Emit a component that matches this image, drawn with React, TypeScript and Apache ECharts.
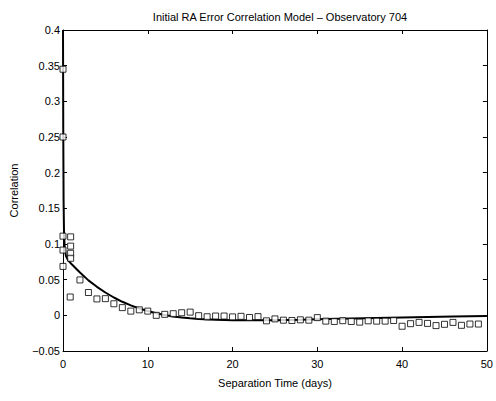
import React, { useEffect, useRef } from "react";
import * as echarts from "echarts";

const titleText = "Initial RA Error Correlation Model – Observatory 704";
const xLabel = "Separation Time (days)";
const yLabel = "Correlation";

// Empirical correlation samples [separation days, correlation]
const samples: [number, number][] = [
  [0, 0.345], [0, 0.25], [0, 0.111], [0, 0.0915], [0, 0.0686],
  [0.9, 0.11], [0.9, 0.097], [0.9, 0.087], [0.9, 0.08], [0.85, 0.0257],
  [2, 0.0496], [3, 0.032], [4, 0.023], [5, 0.0234], [6, 0.0162], [7, 0.0108],
  [8, 0.0059], [9, 0.0077], [10, 0.0059], [11, 0.0], [12, 0.0014], [13, 0.0023],
  [14, 0.0036], [15, 0.0045], [16, -0.0005], [17, -0.002], [18, -0.001], [19, -0.001],
  [20, -0.0022], [21, -0.0014], [22, -0.003], [23, -0.0018], [24, -0.0077], [25, -0.005],
  [26, -0.0068], [27, -0.0072], [28, -0.0063], [29, -0.0068], [30, -0.0032], [31, -0.0081],
  [32, -0.0086], [33, -0.0075], [34, -0.0086], [35, -0.0095], [36, -0.0077], [37, -0.0081],
  [38, -0.0081], [39, -0.0072], [40, -0.0153], [41, -0.0117], [42, -0.0099], [43, -0.0113],
  [44, -0.0144], [45, -0.0126], [46, -0.0099], [47, -0.014], [48, -0.0122], [49, -0.0122],
];

// Fitted model curve [days, correlation]
const model: [number, number][] = [
  [0, 0.4], [0.03, 0.26], [0.07, 0.16], [0.12, 0.115], [0.2, 0.095], [0.35, 0.083],
  [0.6, 0.077], [1, 0.072], [2, 0.06], [3, 0.049], [4, 0.04], [5, 0.032], [6, 0.025],
  [7, 0.019], [8, 0.014], [9, 0.0095], [10, 0.006], [11, 0.003], [12, 0.0005],
  [13, -0.0015], [14, -0.003], [15, -0.0042], [16, -0.0052], [18, -0.0063], [20, -0.0068],
  [22, -0.007], [25, -0.0068], [28, -0.0062], [31, -0.0053], [34, -0.0045], [37, -0.0037],
  [40, -0.003], [43, -0.0023], [46, -0.0017], [50, -0.001],
];

const FONT = "Liberation Sans";

function fmtY(v: number) {
  const r = Math.round(v * 100) / 100;
  const s = String(Math.abs(r));
  return r < 0 ? "−" + s : s;
}

export default function App() {
  const ref = useRef<HTMLDivElement>(null);
  useEffect(() => {
    if (!ref.current) return;
    const chart = echarts.init(ref.current, undefined, { renderer: "svg" });
    const tickStyle = { show: true, inside: true, length: 4, lineStyle: { color: "#000", width: 1 } };
    const lineStyle = { color: "#000", width: 1 };
    chart.setOption({
      animation: false,
      backgroundColor: "#fff",
      title: {
        text: titleText,
        left: 275,
        top: 6,
        textAlign: "center",
        textStyle: { fontFamily: FONT, fontSize: 11, fontWeight: "normal", color: "#000" },
      },
      grid: { left: 63, right: 8, top: 30, bottom: 50, containLabel: false },
      xAxis: [
        {
          type: "value", min: 0, max: 50, interval: 10, position: "bottom",
          axisLine: { show: true, onZero: false, lineStyle },
          axisTick: tickStyle,
          axisLabel: { color: "#000", fontFamily: FONT, fontSize: 11, margin: 7 },
          splitLine: { show: false },
          name: xLabel, nameLocation: "middle", nameGap: 26,
          nameTextStyle: { color: "#000", fontFamily: FONT, fontSize: 11 },
        },
        {
          type: "value", min: 0, max: 50, interval: 10, position: "top",
          axisLine: { show: true, onZero: false, lineStyle },
          axisTick: tickStyle, axisLabel: { show: false }, splitLine: { show: false },
        },
      ],
      yAxis: [
        {
          type: "value", min: -0.05, max: 0.4, interval: 0.05, position: "left",
          axisLine: { show: true, onZero: false, lineStyle },
          axisTick: tickStyle,
          axisLabel: { color: "#000", fontFamily: FONT, fontSize: 11, margin: 3, formatter: fmtY },
          splitLine: { show: false },
          name: yLabel, nameLocation: "middle", nameGap: 44, nameRotate: 90,
          nameTextStyle: { color: "#000", fontFamily: FONT, fontSize: 11 },
        },
        {
          type: "value", min: -0.05, max: 0.4, interval: 0.05, position: "right",
          axisLine: { show: true, onZero: false, lineStyle },
          axisTick: tickStyle, axisLabel: { show: false }, splitLine: { show: false },
        },
      ],
      series: [
        {
          type: "line",
          data: model,
          showSymbol: false,
          smooth: false,
          lineStyle: { color: "#000", width: 2 },
          clip: true,
          z: 3,
        },
        {
          type: "scatter",
          data: samples,
          symbol: "rect",
          symbolSize: 6,
          itemStyle: { color: "#fff", borderColor: "#000", borderWidth: 1 },
          z: 4,
        },
      ],
    });
    return () => chart.dispose();
  }, []);
  return <div ref={ref} style={{ position: "fixed", left: 0, top: 0, width: 496, height: 401 }} />;
}
